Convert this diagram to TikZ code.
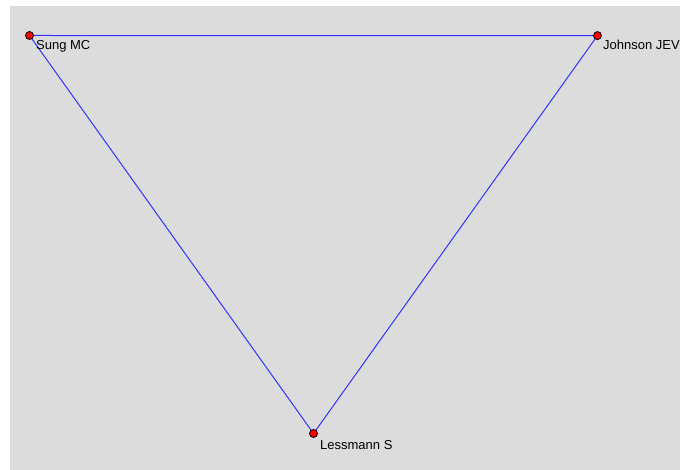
\documentclass[tikz,border=0pt]{standalone}
\usepackage{fontspec}
\setmainfont{Liberation Sans}
\definecolor{bgGray}{RGB}{220,220,220}
\definecolor{edgeBlue}{RGB}{50,50,255}
\begin{document}
\begin{tikzpicture}[x=1pt,y=-1pt,
  vertex/.style={circle,fill=red,draw=black,line width=0.8pt,inner sep=0pt,minimum size=8pt},
  edge/.style={draw=edgeBlue,line width=1pt},
  lbl/.style={anchor=base west,inner sep=0pt,font=\fontsize{13}{15}\selectfont}]
\useasboundingbox (0,0) rectangle (680,470);
\clip (0,0) rectangle (680,470);
\fill[white] (0,0) rectangle (680,470);
\fill[bgGray] (10,6) rectangle (680,470);
\coordinate (s) at (29.5,35.5);
\coordinate (j) at (597.5,35.6);
\coordinate (l) at (313.5,433.5);
\draw[edge] (s) -- (j);
\draw[edge] (s) -- (l);
\draw[edge] (j) -- (l);
\node[vertex] (sn) at (s) {};
\node[vertex] (jn) at (j) {};
\node[vertex] (ln) at (l) {};
\node[lbl] (st) at (36,50) {Sung MC};
\node[lbl] (jt) at (603,50) {Johnson JEV};
\node[lbl] (lt) at (320,449) {Lessmann S};
\end{tikzpicture}
\end{document}
